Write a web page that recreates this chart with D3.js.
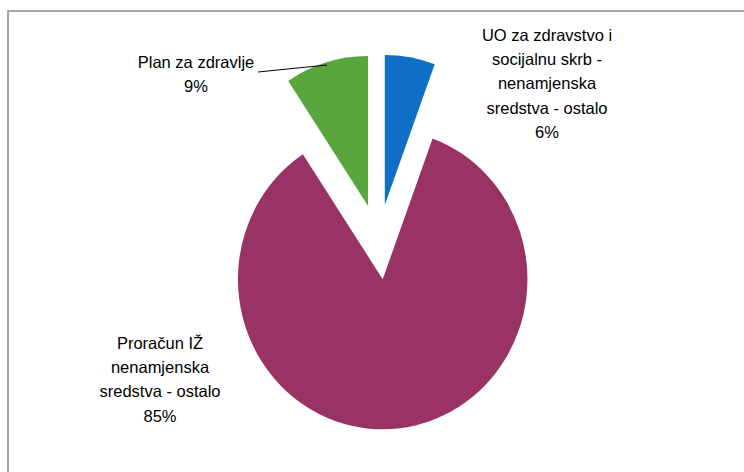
<!DOCTYPE html>
<html lang="hr">
<head>
    <meta charset="UTF-8">
    <title>Izvori sredstava</title>
    <script src="https://cdn.jsdelivr.net/npm/d3@7"></script>
    <style>
        body { margin: 0; background: #fff; }
        text { font-family: "Liberation Sans", Arial, sans-serif; font-size: 16.5px; fill: #000; }
    </style>
</head>
<body>
<svg width="744" height="472"></svg>
<script>
    // slices in drawing order, clockwise from 12 o'clock
    const labels = [
        ["UO za zdravstvo i", "socijalnu skrb -", "nenamjenska", "sredstva - ostalo"],
        ["Proračun IŽ", "nenamjenska", "sredstva - ostalo"],
        ["Plan za zdravlje"]
    ]
    const values = [5.6, 85.1, 9.3]
    const percents = ["6%", "85%", "9%"]
    const colors = ["#0e6fc6", "#993366", "#58a63c"]

    const svg = d3.select("svg")

    // chart frame (runs off the right and bottom edge)
    svg.append("rect")
        .attr("x", 8).attr("y", 11)
        .attr("width", 760).attr("height", 480)
        .attr("fill", "none")
        .attr("stroke", "#a6a6a6")
        .attr("stroke-width", 2)

    const cx = 378.5, cy = 242
    const radius = 150
    const squash = 0.965     // pie is drawn a little narrower than tall
    const explode = 37.5

    const pie = d3.pie().sort(null).value(d => d)
    const arc = d3.arc().innerRadius(0).outerRadius(radius)
    const arcs = pie(values)

    const g = svg.append("g")
        .attr("transform", `translate(${cx},${cy}) scale(${squash},1)`)

    g.selectAll("path")
        .data(arcs)
        .join("path")
        .attr("transform", d => {
            const mid = (d.startAngle + d.endAngle) / 2
            return `translate(${Math.sin(mid) * explode},${-Math.cos(mid) * explode})`
        })
        .attr("d", arc)
        .attr("fill", (d, i) => colors[i])

    // data labels
    const labelPos = [[547, 35], [160, 343], [196, 62]]
    const lineH = 24.3

    labels.forEach((lines, i) => {
        const t = svg.append("text")
            .attr("text-anchor", "middle")
            .attr("transform", `translate(${labelPos[i][0]},${labelPos[i][1]})`)
        lines.concat([percents[i]]).forEach((s, k) => {
            t.append("tspan")
                .attr("x", 0)
                .attr("y", k * lineH)
                .attr("dy", "0.35em")
                .text(s)
        })
    })

    // leader line for the green slice
    svg.append("line")
        .attr("x1", 258).attr("y1", 72)
        .attr("x2", 327).attr("y2", 65)
        .attr("stroke", "#000")
        .attr("stroke-width", 1)
</script>
</body>
</html>
